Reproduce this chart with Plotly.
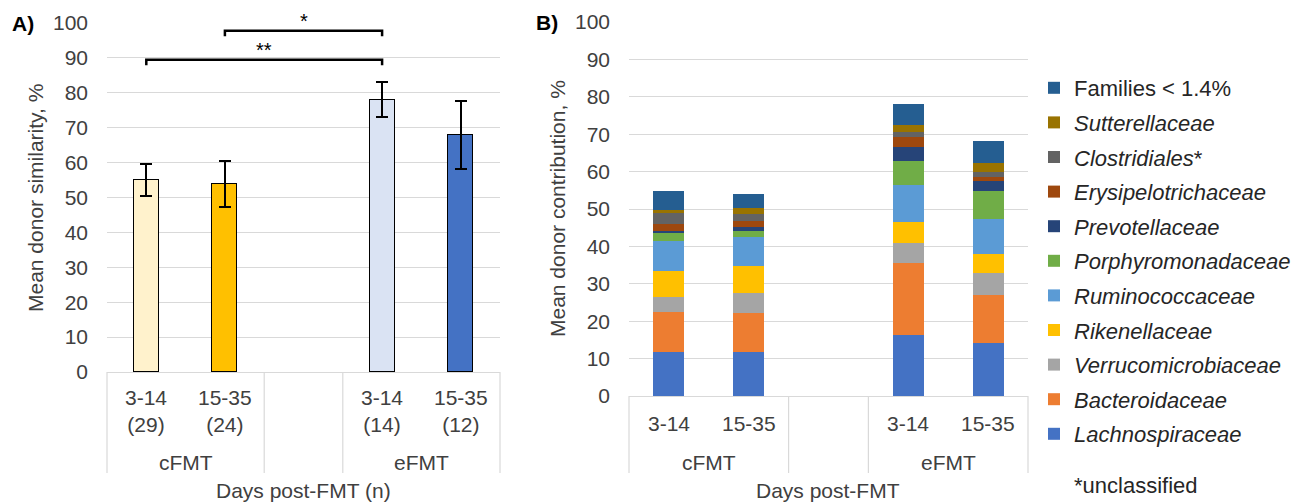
import plotly.graph_objects as go

# ---------------- data ----------------
days = ["3-14", "15-35", "3-14", "15-35"]
groups = ["cFMT", "cFMT", "eFMT", "eFMT"]
n_samples = [29, 24, 14, 12]

# Panel A
similarity = [55.0, 53.8, 78.0, 67.9]
similarity_err = [4.5, 6.6, 5.0, 9.8]

# Panel B (stacked, bottom -> top)
lachnospiraceae = [11.7, 11.7, 16.4, 14.3]
bacteroidaceae = [10.8, 10.4, 19.1, 12.7]
verrucomicrobiaceae = [4.1, 5.4, 5.3, 5.8]
rikenellaceae = [6.8, 7.3, 5.8, 5.3]
ruminococcaceae = [8.0, 7.8, 9.7, 9.3]
porphyromonadaceae = [2.4, 1.5, 6.5, 7.3]
prevotellaceae = [0.2, 1.2, 3.9, 2.8]
erysipelotrichaceae = [2.1, 1.5, 2.5, 1.1]
clostridiales = [2.7, 1.8, 1.5, 1.3]
sutterellaceae = [0.9, 1.6, 1.7, 2.3]
families_small = [5.2, 3.8, 5.6, 6.0]

family_names = ["<i>Lachnospiraceae</i>", "<i>Bacteroidaceae</i>", "<i>Verrucomicrobiaceae</i>",
                "<i>Rikenellaceae</i>", "<i>Ruminococcaceae</i>", "<i>Porphyromonadaceae</i>",
                "<i>Prevotellaceae</i>", "<i>Erysipelotrichaceae</i>", "<i>Clostridiales</i>*",
                "<i>Sutterellaceae</i>", "Families &lt; 1.4%"]
family_values = [lachnospiraceae, bacteroidaceae, verrucomicrobiaceae, rikenellaceae,
                 ruminococcaceae, porphyromonadaceae, prevotellaceae, erysipelotrichaceae,
                 clostridiales, sutterellaceae, families_small]

# ---------------- styles ----------------
family_colors = ["#4472C4", "#ED7D31", "#A5A5A5", "#FFC000", "#5B9BD5", "#70AD47",
                 "#264478", "#9E480E", "#636363", "#997300", "#255E91"]
sim_colors = ["#FFF2CC", "#FFC000", "#DAE3F3", "#4472C4"]
FONT = "Liberation Sans, Arial, sans-serif"
TXT = "#404040"
GRID = "#D9D9D9"
FS = 21

W, H = 1303, 504
OFF = 8  # page body margin offset
def px_x(p): return (p - OFF) / W
def px_y(p): return (H - (p - OFF)) / H

# x slots: group g, index within group k -> g*3 + k (empty slot in between)
group_order = ["cFMT", "eFMT"]
slots = []
counter = {}
for g in groups:
    k = counter.get(g, 0)
    slots.append(group_order.index(g) * 3 + k)
    counter[g] = k + 1

fig = go.Figure()

# Panel A bars
fig.add_trace(go.Bar(
    x=slots, y=similarity, xaxis="x", yaxis="y", width=0.32,
    marker=dict(color=sim_colors, line=dict(color="#000000", width=1.5)),
    error_y=dict(type="data", array=similarity_err, color="#000000", thickness=2, width=6),
    showlegend=False))

# Panel B stacked bars
for i, (name, vals) in enumerate(zip(family_names, family_values)):
    fig.add_trace(go.Bar(
        x=slots, y=vals, xaxis="x2", yaxis="y2", width=0.39, name=name,
        legendgroup=str(i), legendrank=100 - i,
        marker=dict(color=family_colors[i], line=dict(width=0))))

A_dom_x = [px_x(107), px_x(500)]
A_dom_y = [px_y(372), px_y(23)]
B_dom_x = [px_x(629), px_x(1028)]
B_dom_y = [px_y(396), px_y(22)]

yax = dict(range=[0, 100], tickvals=list(range(0, 101, 10)), showgrid=True, gridcolor=GRID,
           gridwidth=1, zeroline=True, zerolinecolor=GRID, zerolinewidth=1, showline=False,
           tickfont=dict(family=FONT, size=FS, color=TXT), ticks="", ticklabelstandoff=18,
           automargin=False)
xax = dict(range=[-0.5, 4.5], showticklabels=False, showgrid=False, zeroline=False,
           showline=False, automargin=False)

fig.update_layout(
    width=W, height=H, margin=dict(l=0, r=0, t=0, b=0, autoexpand=False),
    paper_bgcolor="white", plot_bgcolor="white",
    barmode="stack", bargap=0,
    font=dict(family=FONT, size=FS, color=TXT),
    xaxis=dict(domain=A_dom_x, anchor="y", **xax),
    yaxis=dict(domain=A_dom_y, anchor="x", **yax),
    xaxis2=dict(domain=B_dom_x, anchor="y2", **xax),
    yaxis2=dict(domain=B_dom_y, anchor="x2", **yax),
    legend=dict(x=px_x(1034), y=px_y(67), xanchor="left", yanchor="top",
                traceorder="grouped", tracegroupgap=3,
                font=dict(family=FONT, size=22, color="#262626"),
                bgcolor="rgba(0,0,0,0)"),
)

shapes = []
annotations = []

def ann(x, y, text, xref="paper", yref="paper", size=FS, color=TXT, xanchor="center", **kw):
    annotations.append(dict(xref=xref, yref=yref, x=x, y=y, text=text, showarrow=False,
                            xanchor=xanchor, yanchor="middle",
                            font=dict(size=size, color=color), **kw))

def category_box(xref, dom_y_bottom_px):
    for f in [0, 0.4, 0.6, 1.0]:
        shapes.append(dict(type="line", xref=xref + " domain", yref="paper",
                           x0=f, x1=f, y0=px_y(dom_y_bottom_px), y1=px_y(473),
                           line=dict(color=GRID, width=1.2)))

category_box("x", 372)
category_box("x2", 396)

# Category labels
for i, s in enumerate(slots):
    ann(s, px_y(411), f"{days[i]}<br>({n_samples[i]})", xref="x")
    ann(s, px_y(423), days[i], xref="x2")
for gi, g in enumerate(group_order):
    for xr in ["x", "x2"]:
        ann(gi * 3 + 0.5, px_y(462), g, xref=xr)

ann(px_x(303), px_y(490), "Days post-FMT (n)")
ann(px_x(828), px_y(490), "Days post-FMT")
ann(px_x(35), px_y(198), "Mean donor similarity, %", textangle=-90)
ann(px_x(557), px_y(209), "Mean donor contribution, %", textangle=-90)
ann(px_x(10), px_y(23), "<b>A)</b>", xanchor="left", color="#000000")
ann(px_x(534), px_y(22), "<b>B)</b>", xanchor="left", color="#000000")
ann(px_x(1072), px_y(485), "*unclassified", xanchor="left", size=22, color="#262626")

# Significance brackets (panel A)
def bracket(xa, xb, yv, label, label_px):
    shapes.append(dict(type="path", xref="x", yref="y",
                       path=f"M {xa},{yv-1.6} L {xa},{yv} L {xb},{yv} L {xb},{yv-1.6}",
                       line=dict(color="#000000", width=2.5)))
    ann((xa + xb) / 2, px_y(label_px), label, xref="x", size=20, color="#000000")

bracket(slots[0], slots[2], 89.5, "**", 50)
bracket(slots[1], slots[2], 97.8, "*", 21)

fig.update_layout(shapes=shapes, annotations=annotations)
fig.write_html("out.html")
